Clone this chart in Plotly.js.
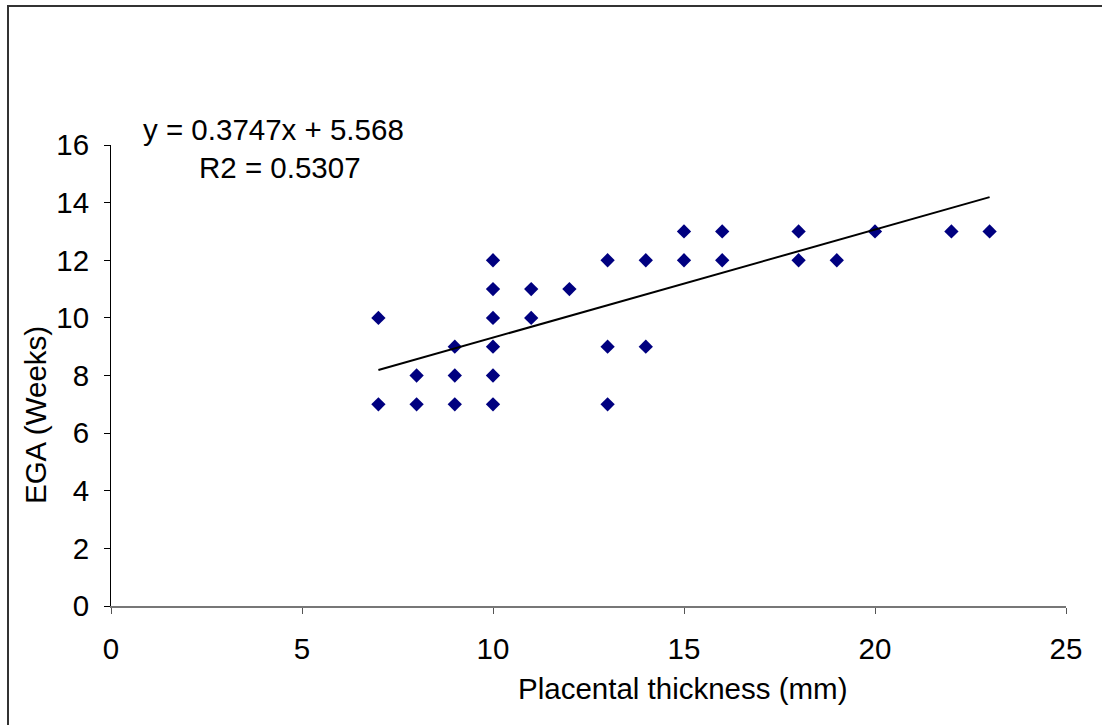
<!DOCTYPE html>
<html>
<head>
<meta charset="utf-8">
<script src="https://cdn.plot.ly/plotly-3.0.1.min.js"></script>
<style>html,body{margin:0;padding:0;background:#fff;}#chart{width:1102px;height:725px;}</style>
</head>
<body>
<div id="chart"></div>
<script>
const thickness = [7,7,8,8,9,9,9,10,10,10,10,10,10,11,11,12,13,13,13,14,14,15,15,16,16,18,18,19,20,22,23];
const ega       = [10,7,8,7,9,8,7,12,11,10,9,8,7,11,10,11,12,9,7,12,9,13,12,13,12,13,12,12,13,13,13];
const trendX = [7, 23];
const trendY = [8.19, 14.19];
const xTicks = [0,5,10,15,20,25];
const yTicks = [0,2,4,6,8,10,12,14,16];

const font = {family: 'Arial, "Liberation Sans", sans-serif', size: 29.5, color: '#000'};

const traces = [
  {x: thickness, y: ega, type: 'scatter', mode: 'markers',
   marker: {symbol: 'diamond', size: 11, color: '#000080'}, cliponaxis: false, hoverinfo: 'x+y'},
  {x: trendX, y: trendY, type: 'scatter', mode: 'lines',
   line: {color: '#000', width: 2}, hoverinfo: 'skip'}
];

const L = 111, R = 36, T = 145, B = 119;
const W = 1102 - L - R, H = 725 - T - B;
const px = v => (v - L) / W;
const py = v => (725 - B - v) / H;

const layout = {
  width: 1102, height: 725,
  margin: {l: L, r: R, t: T, b: B, pad: 0},
  paper_bgcolor: '#fff', plot_bgcolor: '#fff',
  showlegend: false,
  font: font,
  xaxis: {range: [0, 25], tickvals: xTicks, ticks: 'outside', ticklen: 6, tickcolor: '#555',
          showline: true, linecolor: '#777', linewidth: 2, showgrid: false, zeroline: false,
          tickfont: font, ticklabelstandoff: 10},
  yaxis: {range: [0, 16], tickvals: yTicks, ticks: 'outside', ticklen: 6, tickcolor: '#000',
          showline: true, linecolor: '#000', linewidth: 1, showgrid: false, zeroline: false,
          tickfont: font, ticklabelstandoff: 9},
  annotations: [
    {text: 'Placental thickness (mm)', xref: 'paper', yref: 'paper', x: px(683), y: py(688),
     xanchor: 'center', yanchor: 'middle', showarrow: false, font: font},
    {text: 'EGA (Weeks)', xref: 'paper', yref: 'paper', x: px(35), y: py(415), textangle: -90,
     xanchor: 'center', yanchor: 'middle', showarrow: false, font: font},
    {text: 'y = 0.3747x + 5.568', xref: 'paper', yref: 'paper', x: px(273), y: py(130),
     xanchor: 'center', yanchor: 'middle', showarrow: false, font: font},
    {text: 'R2 = 0.5307', xref: 'paper', yref: 'paper', x: px(280), y: py(167),
     xanchor: 'center', yanchor: 'middle', showarrow: false, font: font}
  ],
  shapes: [
    {type: 'path', xref: 'paper', yref: 'paper',
     path: `M ${px(8)} ${py(730)} L ${px(8)} ${py(6)} L ${px(1110)} ${py(6)}`,
     line: {color: '#333', width: 2}}
  ]
};

Plotly.newPlot('chart', traces, layout, {displayModeBar: false, staticPlot: true});
</script>
</body>
</html>
